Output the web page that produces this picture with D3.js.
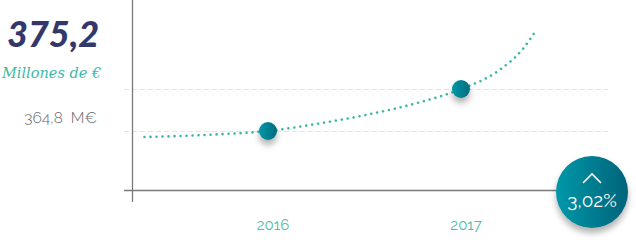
<!DOCTYPE html>
<html>
<head>
<meta charset="utf-8">
<script src="https://cdn.jsdelivr.net/npm/d3@7"></script>
<style>
  html, body { margin: 0; padding: 0; background: #fff; }
  svg { display: block; }
</style>
</head>
<body>
<div class="graph-container"></div>
<script>
// --- data
const years = [2016, 2017];
const values = [364.8, 375.2];
const tickLabels = ["2016", "2017"];
const gridValues = [364.8, 375.2];
// trend curve (year, millions of euro)
const trendYears = [2015.36, 2015.75, 2016, 2016.27, 2016.53, 2016.77, 2017, 2017.19, 2017.32, 2017.39];
const trendValues = [363.3, 364.0, 364.8, 366.7, 369.0, 371.7, 375.2, 379.6, 385.1, 389.8];
const headline = "375,2";
const unitLabel = "Millones de €";
const prevLabel = "364,8  M€";
const growthLabel = "3,02%";

const width = 636, height = 245;

const svg = d3.select(".graph-container").append("svg")
  .attr("width", width)
  .attr("height", height);

const defs = svg.append("defs");

const dotGrad = defs.append("linearGradient").attr("id", "dotGrad")
  .attr("x1", "0%").attr("x2", "100%").attr("y1", "0%").attr("y2", "0%");
dotGrad.append("stop").attr("offset", "0%").attr("stop-color", "#0098a9");
dotGrad.append("stop").attr("offset", "100%").attr("stop-color", "#006a7e");

const bigGrad = defs.append("linearGradient").attr("id", "bigGrad")
  .attr("x1", "0%").attr("x2", "100%").attr("y1", "0%").attr("y2", "0%");
bigGrad.append("stop").attr("offset", "0%").attr("stop-color", "#0098a9");
bigGrad.append("stop").attr("offset", "100%").attr("stop-color", "#00637a");

const shadow = defs.append("filter").attr("id", "shadow")
  .attr("x", "-60%").attr("y", "-60%").attr("width", "220%").attr("height", "240%");
shadow.append("feDropShadow")
  .attr("dx", 0).attr("dy", 5).attr("stdDeviation", 3)
  .attr("flood-color", "#000").attr("flood-opacity", 0.3);

// --- scales
const x = d3.scaleLinear().domain([2016, 2017]).range([268, 461]);
const y = d3.scaleLinear().domain([364.8, 375.2]).range([131, 89]);

// gridlines
svg.append("g").selectAll("line")
  .data(gridValues)
  .join("line")
  .attr("x1", 124).attr("x2", 608)
  .attr("y1", d => Math.round(y(d)) + 0.5).attr("y2", d => Math.round(y(d)) + 0.5)
  .attr("stroke", "#e2e2e2")
  .attr("stroke-dasharray", "5,3");

// axes
const axisY = Math.round(y(350.3)) + 0.5;
svg.append("line")
  .attr("x1", 124).attr("x2", 600)
  .attr("y1", axisY).attr("y2", axisY)
  .attr("stroke", "#7a7a7a").attr("stroke-width", 1.3);
svg.append("line")
  .attr("x1", 132.5).attr("x2", 132.5)
  .attr("y1", 0).attr("y2", 202)
  .attr("stroke", "#7a7a7a").attr("stroke-width", 1.3);

// x tick labels
svg.append("g").selectAll("text")
  .data(tickLabels)
  .join("text")
  .attr("x", (d, i) => x(years[i]) + 5)
  .attr("y", 230)
  .attr("text-anchor", "middle")
  .attr("font-family", "Raleway, 'Open Sans', sans-serif")
  .attr("font-size", 15)
  .attr("fill", "#4dbcab")
  .text(d => d);

// dotted trend line
const line = d3.line()
  .x(d => x(d[0]))
  .y(d => y(d[1]))
  .curve(d3.curveMonotoneX);

svg.append("path")
  .datum(d3.zip(trendYears, trendValues))
  .attr("d", line)
  .attr("fill", "none")
  .attr("stroke", "#3db7a6")
  .attr("stroke-width", 2.6)
  .attr("stroke-linecap", "round")
  .attr("stroke-dasharray", "0.01,6");

// data points
svg.append("g").selectAll("circle")
  .data(values)
  .join("circle")
  .attr("cx", (d, i) => x(years[i]))
  .attr("cy", d => y(d))
  .attr("r", 9)
  .attr("fill", "url(#dotGrad)")
  .attr("filter", "url(#shadow)");

// headline texts
svg.append("text")
  .attr("x", 7).attr("y", 47)
  .attr("font-family", "Lato, sans-serif")
  .attr("font-weight", 900)
  .attr("font-style", "italic")
  .attr("font-size", 36)
  .attr("fill", "#34376a")
  .text(headline);

svg.append("text")
  .attr("x", 2).attr("y", 78)
  .attr("font-family", "'DejaVu Serif', serif")
  .attr("font-style", "italic")
  .attr("font-size", 14.5)
  .attr("fill", "#3dbaa7")
  .text(unitLabel);

svg.append("text")
  .attr("x", 97).attr("y", 123)
  .attr("text-anchor", "end")
  .attr("font-family", "Raleway, 'Open Sans', sans-serif")
  .attr("font-weight", 300)
  .attr("font-size", 15.5)
  .attr("fill", "#666")
  .style("white-space", "pre")
  .text(prevLabel);

// growth badge
const badge = svg.append("g").attr("transform", "translate(592,192)");
badge.append("circle")
  .attr("r", 36)
  .attr("fill", "url(#bigGrad)")
  .attr("filter", "url(#shadow)");
badge.append("path")
  .attr("d", "M-9,-9 L0,-18 L9,-9")
  .attr("fill", "none")
  .attr("stroke", "#fff")
  .attr("stroke-width", 1.6);
badge.append("text")
  .attr("y", 15)
  .attr("text-anchor", "middle")
  .attr("font-family", "Raleway, 'Open Sans', sans-serif")
  .attr("font-size", 19)
  .attr("fill", "#fff")
  .text(growthLabel);
</script>
</body>
</html>
